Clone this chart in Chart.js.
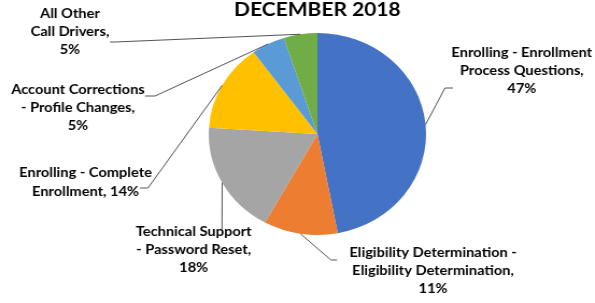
<!DOCTYPE html>
<html>
<head>
<meta charset="utf-8">
<script src="https://cdn.jsdelivr.net/npm/chart.js@4/dist/chart.umd.min.js"></script>
<style>
  html, body { margin: 0; padding: 0; background: #ffffff; overflow: hidden; }
  #wrap { position: absolute; left: 0; top: 0; width: 553px; height: 303px; transform: scaleX(1.0759); transform-origin: 0 0; }
</style>
</head>
<body>
<div id="wrap"><canvas id="c"></canvas></div>
<script>
// ---- data ----
const chartTitle = "DECEMBER 2018";
const categories = [
  "Enrolling - Enrollment Process Questions",
  "Eligibility Determination - Eligibility Determination",
  "Technical Support - Password Reset",
  "Enrolling - Complete Enrollment",
  "Account Corrections - Profile Changes",
  "All Other Call Drivers"
];
const values = [47, 11, 18, 14, 5, 5];
const colors = ["#4472C4", "#ED7D31", "#A5A5A5", "#FFC000", "#5B9BD5", "#70AD47"];

// ---- label layout (styles only) ----
const wordsPerLine = [[3, 2, 1], [3, 2, 1], [2, 3, 1], [3, 2], [2, 3, 1], [2, 2, 1]];
const labelPos = [ // centre x, first line y (canvas units)
  [485, 53], [402.5, 253], [180, 232], [79.5, 173], [72.5, 90], [65, 14]
];
const lineGap = [18, 18, 18, 19, 18, 18];
const leader = [ // elbow, end
  [[413.6, 88], [421, 88]],
  [[307.6, 260], [313.2, 260]],
  [[206.3, 229], [206.3, 229]],
  [[137.5, 188], [130.1, 188]],
  [[144.1, 96], [134.8, 96]],
  [[106.9, 42], [102.2, 42]]
];

function buildLines(i) {
  const words = (categories[i] + ", " + values[i] + "%").split(" ");
  const out = [];
  let k = 0;
  wordsPerLine[i].forEach(n => { out.push(words.slice(k, k + n).join(" ")); k += n; });
  return out;
}

const labelPlugin = {
  id: "pieLabels",
  afterDatasetsDraw(chart) {
    const ctx = chart.ctx;
    const meta = chart.getDatasetMeta(0);
    ctx.save();
    // title
    ctx.fillStyle = "#000000";
    ctx.font = "bold 19.5px Lato";
    ctx.textAlign = "center";
    ctx.textBaseline = "alphabetic";
    ctx.fillText(chartTitle, 295, 16);

    meta.data.forEach((arc, i) => {
      const p = arc.getProps(["x", "y", "startAngle", "endAngle", "outerRadius"], true);
      const mid = (p.startAngle + p.endAngle) / 2;
      const ax = p.x + Math.cos(mid) * p.outerRadius;
      const ay = p.y + Math.sin(mid) * p.outerRadius;
      const [el, en] = leader[i];
      ctx.strokeStyle = "#404040";
      ctx.lineWidth = 0.9;
      ctx.beginPath();
      ctx.moveTo(ax, ay);
      ctx.lineTo(el[0], el[1]);
      ctx.lineTo(en[0], en[1]);
      ctx.stroke();

      ctx.fillStyle = "#000000";
      ctx.font = "bold 13.6px Lato";
      ctx.textAlign = "center";
      ctx.textBaseline = "middle";
      const lines = buildLines(i);
      lines.forEach((t, j) => {
        ctx.fillText(t, labelPos[i][0], labelPos[i][1] + j * lineGap[i]);
      });
    });
    ctx.restore();
  }
};

new Chart(document.getElementById("c"), {
  type: "pie",
  data: {
    labels: categories,
    datasets: [{
      data: values,
      backgroundColor: colors,
      borderWidth: 0
    }]
  },
  options: {
    responsive: true,
    maintainAspectRatio: false,
    animation: false,
    layout: { padding: { top: 33, bottom: 68, left: 194, right: 157 } },
    plugins: {
      legend: { display: false },
      tooltip: { enabled: false },
      title: { display: false }
    }
  },
  plugins: [labelPlugin]
});
</script>
</body>
</html>
